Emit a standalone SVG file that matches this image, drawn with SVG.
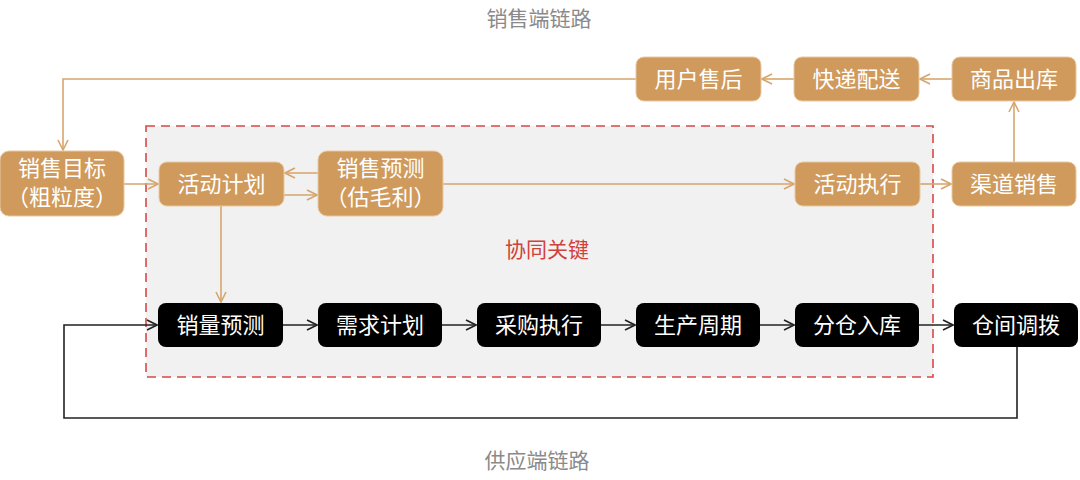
<svg xmlns="http://www.w3.org/2000/svg" width="1080" height="480" viewBox="0 0 1080 480">
<defs>
<style>
text{font-family:"Noto Sans CJK SC","Noto Sans",sans-serif;font-size:22px;text-anchor:middle}
.bn rect{fill:#cf9a5c;stroke:#e8c9a2;stroke-width:1}
.bk rect{fill:#000}
.bn text,.bk text{fill:#fff}
.lab{fill:#8a8a8a;font-size:21px}
.key{fill:#d0413b;font-size:21px}
.cb{fill:none;stroke:#d6a56e;stroke-width:1.6}
.ck{fill:none;stroke:#222;stroke-width:1.6}
</style>
<marker id="ab" viewBox="0 0 12 12" refX="11" refY="6" markerWidth="12" markerHeight="12" markerUnits="userSpaceOnUse" orient="auto">
<path d="M1,1 L11,6 L1,11" fill="none" stroke="#d6a56e" stroke-width="1.6"/>
</marker>
<marker id="ak" viewBox="0 0 12 12" refX="11" refY="6" markerWidth="12" markerHeight="12" markerUnits="userSpaceOnUse" orient="auto">
<path d="M1,1 L11,6 L1,11" fill="none" stroke="#222" stroke-width="1.6"/>
</marker>
</defs>
<rect width="1080" height="480" fill="#fff"/>
<g id="zone">
<rect x="146" y="126" width="787" height="251" fill="#f1f1f1" stroke="#d64a45" stroke-width="1.6" stroke-dasharray="9,6"/>
<text class="key" x="547" y="257">协同关键</text>
</g>
<text class="lab" x="539" y="26">销售端链路</text>
<text class="lab" x="537" y="468">供应端链路</text>
<g id="connectors">
<path class="cb" d="M636,79 H63 V150" marker-end="url(#ab)"/>
<path class="cb" d="M952,79 H920" marker-end="url(#ab)"/>
<path class="cb" d="M794,79 H762" marker-end="url(#ab)"/>
<path class="cb" d="M1014,162 V102" marker-end="url(#ab)"/>
<path class="cb" d="M124,184 H158" marker-end="url(#ab)"/>
<path class="cb" d="M318,173 H285" marker-end="url(#ab)"/>
<path class="cb" d="M284,195 H317" marker-end="url(#ab)"/>
<path class="cb" d="M443,184 H794" marker-end="url(#ab)"/>
<path class="cb" d="M920,184 H951" marker-end="url(#ab)"/>
<path class="cb" d="M221,206 V302" marker-end="url(#ab)"/>
<path class="ck" d="M283,325 H317" marker-end="url(#ak)"/>
<path class="ck" d="M442,325 H476" marker-end="url(#ak)"/>
<path class="ck" d="M601,325 H635" marker-end="url(#ak)"/>
<path class="ck" d="M760,325 H794" marker-end="url(#ak)"/>
<path class="ck" d="M919,325 H953" marker-end="url(#ak)"/>
<path class="ck" d="M1017,347 V418 H64 V325 H157" marker-end="url(#ak)"/>
</g>
<g id="n-yonghu" class="bn"><rect x="636" y="57" width="125" height="44" rx="8"/><text x="698.5" y="87">用户售后</text></g>
<g id="n-kuaidi" class="bn"><rect x="794" y="57" width="125" height="44" rx="8"/><text x="856.5" y="87">快递配送</text></g>
<g id="n-shangpin" class="bn"><rect x="952" y="57" width="124" height="44" rx="8"/><text x="1014" y="87">商品出库</text></g>
<g id="n-mubiao" class="bn"><rect x="0" y="151" width="124" height="65" rx="9"/><text x="62" y="176">销售目标</text><text x="62" y="205">（粗粒度）</text></g>
<g id="n-jihua" class="bn"><rect x="159" y="162" width="125" height="44" rx="8"/><text x="221.5" y="192">活动计划</text></g>
<g id="n-yuce" class="bn"><rect x="318" y="151" width="125" height="65" rx="9"/><text x="380.5" y="176">销售预测</text><text x="380.5" y="205">（估毛利）</text></g>
<g id="n-zhixing" class="bn"><rect x="795" y="162" width="125" height="44" rx="8"/><text x="857.5" y="192">活动执行</text></g>
<g id="n-qudao" class="bn"><rect x="952" y="162" width="124" height="44" rx="8"/><text x="1014" y="192">渠道销售</text></g>
<g id="n-xiaoliang" class="bk"><rect x="158" y="303" width="125" height="44" rx="8"/><text x="220.5" y="333">销量预测</text></g>
<g id="n-xuqiu" class="bk"><rect x="318" y="303" width="124" height="44" rx="8"/><text x="380" y="333">需求计划</text></g>
<g id="n-caigou" class="bk"><rect x="477" y="303" width="124" height="44" rx="8"/><text x="539" y="333">采购执行</text></g>
<g id="n-shengchan" class="bk"><rect x="636" y="303" width="124" height="44" rx="8"/><text x="698" y="333">生产周期</text></g>
<g id="n-fencang" class="bk"><rect x="795" y="303" width="124" height="44" rx="8"/><text x="857" y="333">分仓入库</text></g>
<g id="n-diaobo" class="bk"><rect x="954" y="303" width="124" height="44" rx="8"/><text x="1016" y="333">仓间调拨</text></g>
</svg>
